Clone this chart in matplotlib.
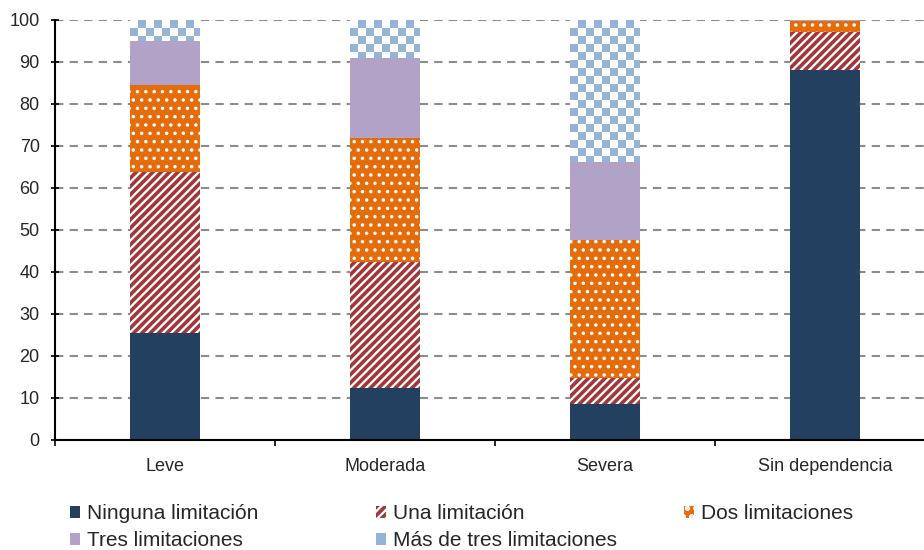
import numpy as np
import matplotlib
matplotlib.use("Agg")
import matplotlib.pyplot as plt
from matplotlib.colors import ListedColormap
from matplotlib.patches import Patch

plt.rcParams['font.family'] = ['Liberation Sans', 'DejaVu Sans']

# Data (percent of people in each dependency group)
categories = ["Leve", "Moderada", "Severa", "Sin dependencia"]
ninguna = [25.5, 12.4, 8.6, 88.1]
una = [38.3, 30.0, 6.2, 9.1]
dos = [20.7, 29.5, 32.8, 2.5]
tres = [10.5, 19.1, 18.6, 0.3]
mas_de_tres = [5.0, 9.0, 33.8, 0.0]
series_labels = ["Ninguna limitación", "Una limitación", "Dos limitaciones",
                 "Tres limitaciones", "Más de tres limitaciones"]
y_ticks = [0, 10, 20, 30, 40, 50, 60, 70, 80, 90, 100]

navy = "#244061"
red = "#A0373A"
orange = "#E46C0A"
purple = "#B3A2C7"
blue = "#95B3D7"

W, H = 924, 550
fig = plt.figure(figsize=(W / 100, H / 100), dpi=100)
ax = fig.add_axes([55 / W, 1 - 440 / H, 880 / W, 420 / H])

x = np.arange(len(categories))
bw = 0.318

STRIPES = "////"
DOTS = ".."

plt.rcParams['hatch.linewidth'] = 2.6
b1 = ax.bar(x, ninguna, bw, color=navy, linewidth=0, zorder=2)
bottom = np.array(ninguna)
b2 = ax.bar(x, una, bw, bottom=bottom, facecolor="white", edgecolor=red,
            hatch=STRIPES, linewidth=0, zorder=2)
bottom = bottom + np.array(una)
b3 = ax.bar(x, dos, bw, bottom=bottom, facecolor=orange, edgecolor="white",
            hatch=DOTS, linewidth=0, zorder=2)
for p in b3:
    if hasattr(p, "set_hatch_linewidth"):
        p.set_hatch_linewidth(1.3)
bottom = bottom + np.array(dos)
b4 = ax.bar(x, tres, bw, bottom=bottom, color=purple, linewidth=0, zorder=2)
bottom = bottom + np.array(tres)
b5 = ax.bar(x, mas_de_tres, bw, bottom=bottom, facecolor="none",
            linewidth=0, zorder=2)

ax.set_xlim(-0.5, 3.5)
ax.set_ylim(0, 100)

# checkerboard fill for the top segment, clipped to each bar
fig.canvas.draw()
px_x = ax.transData.transform((1, 0))[0] - ax.transData.transform((0, 0))[0]
px_y = ax.transData.transform((0, 1))[1] - ax.transData.transform((0, 0))[1]
sq = 8.0
cmap = ListedColormap(["white", blue])
for p in b5:
    h = p.get_height()
    if h <= 0:
        continue
    x0, y0, w = p.get_x(), p.get_y(), p.get_width()
    nx = int(np.ceil(w * px_x / sq)) + 1
    ny = int(np.ceil(h * px_y / sq)) + 1
    board = (np.add.outer(np.arange(ny), np.arange(nx)) % 2).astype(float)
    x1 = x0 + nx * sq / px_x
    y1 = y0 + h
    ybot = y1 - ny * sq / px_y
    im = ax.imshow(board, extent=(x0, x1, ybot, y1), origin="upper",
                   cmap=cmap, interpolation="nearest", aspect="auto",
                   zorder=2, vmin=0, vmax=1)
    im.set_clip_path(p)

ax.set_xlim(-0.5, 3.5)
ax.set_ylim(0, 100)

# axes styling
ax.set_axisbelow(True)
ax.yaxis.grid(True, color="#8c8c8c", linestyle=(0, (4, 3)), linewidth=1.5, zorder=0)
ax.set_yticks(y_ticks)
ax.set_xticks(x)
ax.set_xticklabels(categories)
ax.set_xticks([-0.5, 0.5, 1.5, 2.5, 3.5], minor=True)
ax.tick_params(axis="x", which="major", length=0, pad=13, labelsize=13, labelcolor="#262626")
ax.tick_params(axis="x", which="minor", direction="out", length=4, width=1.2)
ax.tick_params(axis="y", direction="inout", length=6, width=1.2, pad=8,
               labelsize=13, labelcolor="#262626")
for s in ["top", "right"]:
    ax.spines[s].set_visible(False)
for s in ["left", "bottom"]:
    ax.spines[s].set_linewidth(1.5)
    ax.spines[s].set_color("black")

# legend, three columns laid out on a fixed grid
handles = [
    Patch(facecolor=navy, linewidth=0),
    Patch(facecolor="white", edgecolor=red, hatch=STRIPES, linewidth=0),
    Patch(facecolor=orange, edgecolor="white", hatch=DOTS, linewidth=0),
    Patch(facecolor=purple, linewidth=0),
    Patch(facecolor=blue, linewidth=0),
]
leg_kw = dict(frameon=False, fontsize=15, handlelength=0.5, handleheight=0.5,
              handletextpad=0.3, borderpad=0, borderaxespad=0, labelspacing=0.4,
              labelcolor="#262626")
cols = [([0, 3], 70), ([1, 4], 376), ([2], 684)]
for idx, xpx in cols:
    fig.legend([handles[i] for i in idx], [series_labels[i] for i in idx],
               loc="upper left", bbox_to_anchor=(xpx / W, 1 - 504 / H), **leg_kw)

fig.savefig("out.png", dpi=100)
